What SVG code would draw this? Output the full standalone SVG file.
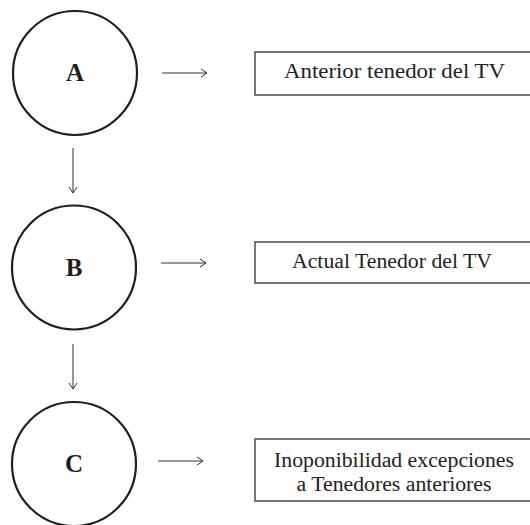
<svg xmlns="http://www.w3.org/2000/svg" width="530" height="525" viewBox="0 0 530 525">
<defs>
<style>
.circ{fill:#fff;stroke:#1e1e1e;stroke-width:2.2}
.box{fill:#fff;stroke:#555;stroke-width:1.6}
.lbl{font-family:"Liberation Serif","Times New Roman",serif;font-weight:bold;font-size:25px;fill:#1e1e1e;text-anchor:middle}
.txt{font-family:"Liberation Serif","Times New Roman",serif;font-size:20px;fill:#222;text-anchor:middle}
.conn{stroke:#333;stroke-width:1;fill:none}
</style>
<marker id="ah" viewBox="0 0 10 10" refX="9" refY="5" markerWidth="10" markerHeight="10" markerUnits="userSpaceOnUse" orient="auto">
<path d="M3,1 L9,5 L3,9" fill="none" stroke="#333" stroke-width="1"/>
</marker>
</defs>
<rect width="530" height="525" fill="#fff"/>
<g id="nodeA">
<circle class="circ" cx="75" cy="73" r="62"/>
<text class="lbl" x="75" y="81">A</text>
</g>
<g id="nodeB">
<circle class="circ" cx="74" cy="267.5" r="62"/>
<text class="lbl" x="74" y="276">B</text>
</g>
<g id="nodeC">
<circle class="circ" cx="74" cy="464" r="62"/>
<text class="lbl" x="74" y="472">C</text>
</g>
<g id="boxA">
<rect class="box" x="255" y="52" width="290" height="43"/>
<text class="txt" x="394.5" y="78" textLength="221" lengthAdjust="spacingAndGlyphs">Anterior tenedor del TV</text>
</g>
<g id="boxB">
<rect class="box" x="255" y="242" width="290" height="41"/>
<text class="txt" x="392" y="268" textLength="200" lengthAdjust="spacingAndGlyphs">Actual Tenedor del TV</text>
</g>
<g id="boxC">
<rect class="box" x="255" y="439" width="290" height="62"/>
<text class="txt" x="394" y="467" textLength="240" lengthAdjust="spacingAndGlyphs">Inoponibilidad excepciones</text>
<text class="txt" x="394" y="491" textLength="195" lengthAdjust="spacingAndGlyphs">a Tenedores anteriores</text>
</g>
<g id="connectors">
<line class="conn" x1="162" y1="73" x2="207" y2="73" marker-end="url(#ah)"/>
<line class="conn" x1="161" y1="263" x2="206" y2="263" marker-end="url(#ah)"/>
<line class="conn" x1="158" y1="461" x2="203" y2="461" marker-end="url(#ah)"/>
<line class="conn" x1="73" y1="148" x2="73" y2="193" marker-end="url(#ah)"/>
<line class="conn" x1="73" y1="344" x2="73" y2="389" marker-end="url(#ah)"/>
</g>
</svg>
